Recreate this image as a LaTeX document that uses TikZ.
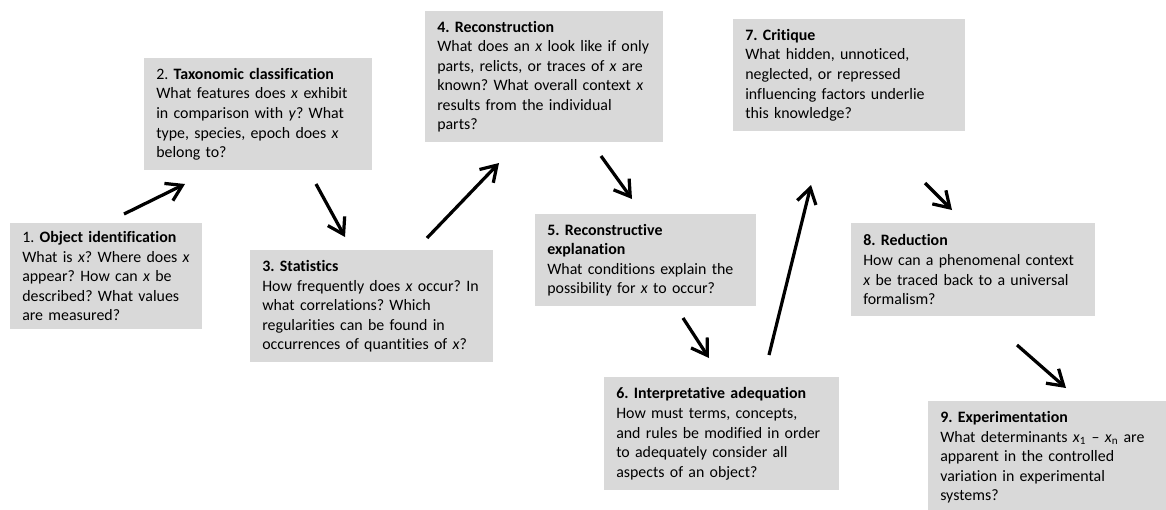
\documentclass[tikz,border=0pt]{standalone}
\usepackage{fontspec}
\setmainfont{Carlito}[Ligatures=NoCommon]
\usepackage{xcolor}
\usetikzlibrary{positioning,arrows.meta}

\definecolor{boxgray}{RGB}{217,217,217}
\frenchspacing

\begin{document}
\begin{tikzpicture}[
    x=0.025cm, y=-0.025cm,
    font=\fontsize{11.3pt}{13.9pt}\selectfont,
    stage/.style={
        rectangle, fill=boxgray,
        anchor=north west, align=left,
        inner xsep=0.3cm, inner ysep=0pt
    },
    arrow/.style={-{Straight Barb[length=3.8mm, width=4.8mm]}, line width=2.3pt, black}
]

\clip (0,0) rectangle (1166,509);

\node[stage, text width=4.2cm, minimum height=2.65cm] (ident) at (10,223)
    {1. \textbf{Object identification}\\What is \textit{x}? Where does \textit{x}\\appear? How can \textit{x} be\\described? What values\\are measured?};
\node[stage, text width=5.1cm, minimum height=2.8cm] (taxo) at (144,58)
    {2. \textbf{Taxonomic classification}\\What features does \textit{x} exhibit\\in comparison with \textit{y}? What\\type, species, epoch does \textit{x}\\belong to?};
\node[stage, text width=5.475cm, minimum height=2.8cm] (stat) at (250,250)
    {\textbf{3. Statistics}\\How frequently does \textit{x} occur? In\\what correlations? Which\\regularities can be found in\\occurrences of quantities of \textit{x}?};
\node[stage, text width=5.35cm, minimum height=3.275cm] (recon) at (425,11)
    {\textbf{4. Reconstruction}\\What does an \textit{x} look like if only\\parts, relicts, or traces of \textit{x} are\\known? What overall context \textit{x}\\results from the individual\\parts?};
\node[stage, text width=4.925cm, minimum height=2.3cm] (expl) at (535,214)
    {\textbf{5. Reconstructive}\\\textbf{explanation}\\What conditions explain the\\possibility for \textit{x} to occur?};
\node[stage, text width=5.275cm, minimum height=2.825cm] (adeq) at (604,377)
    {\textbf{6. Interpretative adequation}\\How must terms, concepts,\\and rules be modified in order\\to adequately consider all\\aspects of an object?};
\node[stage, text width=5.2cm, minimum height=2.8cm] (crit) at (733,19)
    {\textbf{7. Critique}\\What hidden, unnoticed,\\neglected, or repressed\\influencing factors underlie\\this knowledge?};
\node[stage, text width=5.5cm, minimum height=2.325cm] (reduc) at (851,223)
    {\textbf{8. Reduction}\\How can a phenomenal context\\\textit{x} be traced back to a universal\\formalism?};
\node[stage, text width=5.35cm, minimum height=2.8cm] (exper) at (928,401)
    {\textbf{9. Experimentation}\\What determinants \textit{x}\textsubscript{1} -- \textit{x}\textsubscript{n} are\\apparent in the controlled\\variation in experimental\\systems?};

% free arrow ends between the stages
\coordinate (identout) at (124,214);
\coordinate (taxoin) at (185,184);
\coordinate (taxoout) at (316,184);
\coordinate (statin) at (345,237);
\coordinate (statout) at (427,238);
\coordinate (reconin) at (499,163);
\coordinate (reconout) at (601,156);
\coordinate (explin) at (632,199);
\coordinate (explout) at (683,318);
\coordinate (adeqin) at (709,358);
\coordinate (adeqout) at (769,355);
\coordinate (critin) at (811,185);
\coordinate (critout) at (925,183);
\coordinate (reducin) at (952,210);
\coordinate (reducout) at (1017,345);
\coordinate (experin) at (1066,388);

\draw[arrow] (identout) -- (taxoin);
\draw[arrow] (taxoout) -- (statin);
\draw[arrow] (statout) -- (reconin);
\draw[arrow] (reconout) -- (explin);
\draw[arrow] (explout) -- (adeqin);
\draw[arrow] (adeqout) -- (critin);
\draw[arrow] (critout) -- (reducin);
\draw[arrow] (reducout) -- (experin);

\end{tikzpicture}
\end{document}
